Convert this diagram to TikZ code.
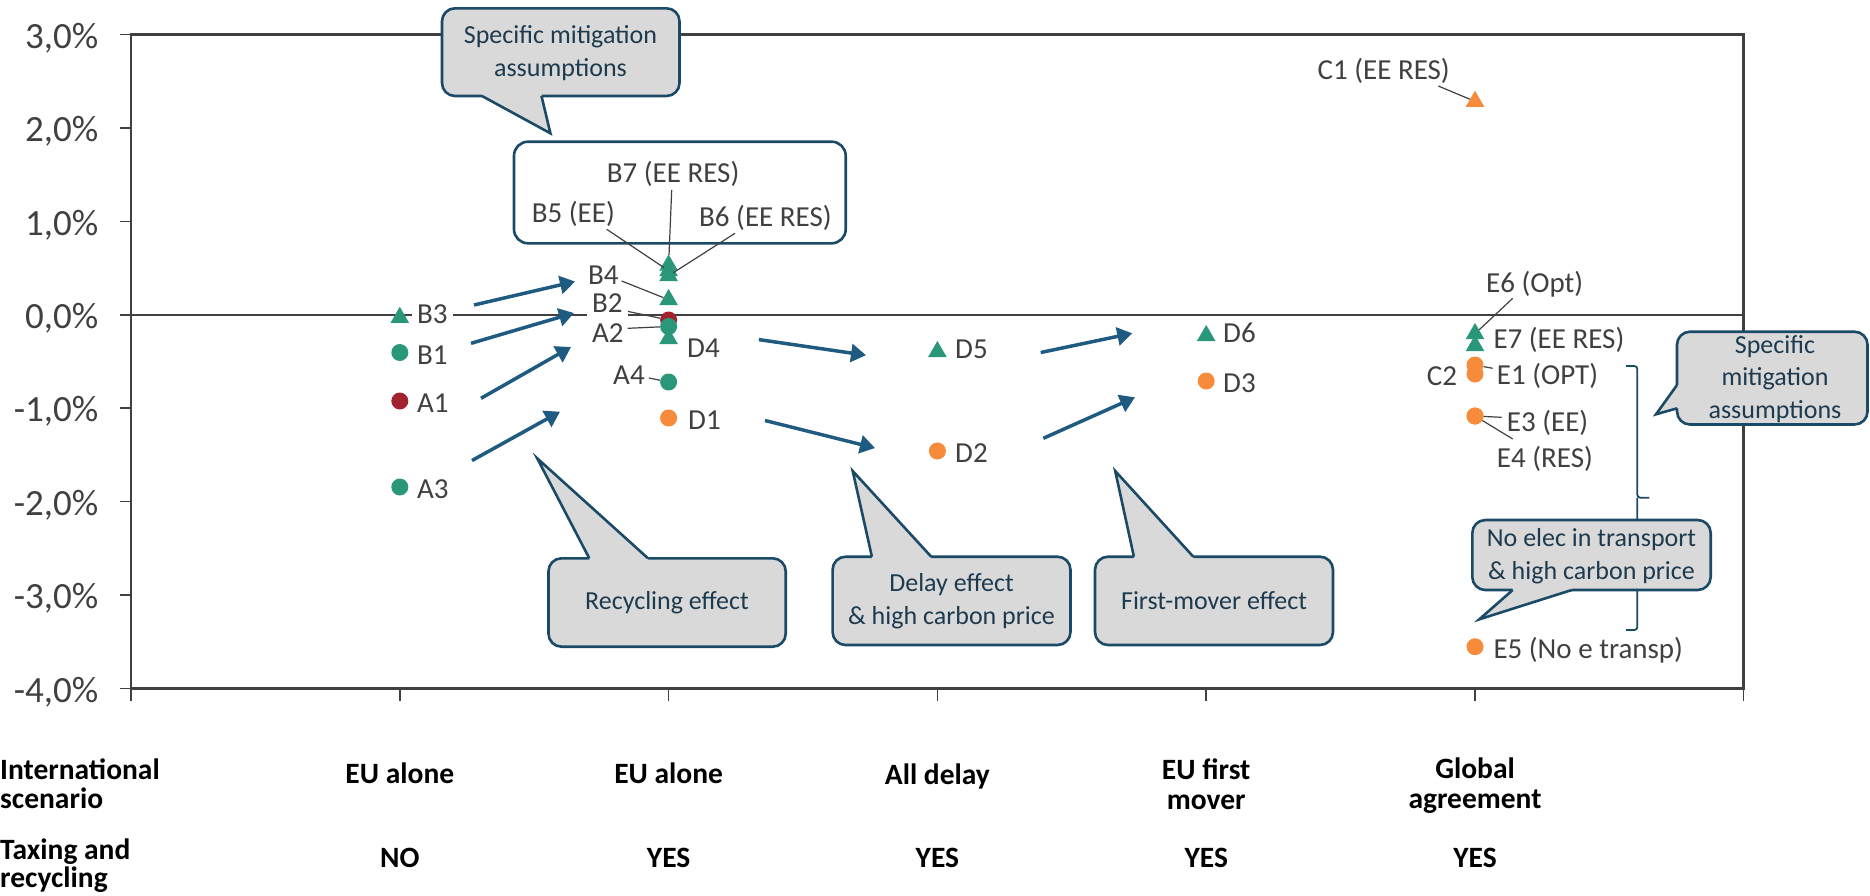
\documentclass[tikz,border=0pt]{standalone}
\usepackage{fontspec}
\setmainfont{Carlito}
\usetikzlibrary{arrows.meta,shapes.geometric}
\definecolor{cgreen}{HTML}{2A977A}
\definecolor{cred}{HTML}{A3222F}
\definecolor{corange}{HTML}{F58B3B}
\definecolor{carrow}{HTML}{1F5A80}
\definecolor{cborder}{HTML}{1B4A66}
\definecolor{cfill}{HTML}{D9D9D9}
\definecolor{ctext}{HTML}{404040}
\definecolor{cctext}{HTML}{1E3A4E}
\definecolor{caxis}{HTML}{404040}
\begin{document}
\begin{tikzpicture}[x=1pt,y=-1pt,
  frame/.style={draw=caxis,line width=2.6pt},
  tickmark/.style={draw=caxis,line width=1.6pt},
  circ/.style={circle,inner sep=0pt,minimum size=17pt},
  tri/.style={regular polygon,regular polygon sides=3,inner sep=0pt,minimum size=21.5pt},
  lab/.style={anchor=base west,inner sep=0pt,text=ctext,font=\fontsize{29}{35}\selectfont},
  labw/.style={lab,fill=white,inner xsep=5pt,inner ysep=4pt},
  lead/.style={draw=ctext,line width=1.2pt},
  arr/.style={draw=carrow,line width=3.5pt,-{Triangle[length=15pt,width=18pt]}},
  cbox/.style={draw=cborder,fill=cfill,line width=2.6pt,rounded corners=13pt},
  cptr/.style={draw=cborder,line width=2.6pt,line join=miter},
  ctxt/.style={text=cctext,font=\fontsize{26}{32.5}\selectfont,align=center,inner sep=0pt},
  ylab/.style={anchor=base east,inner sep=0pt,text=ctext,font=\fontsize{37}{44}\selectfont},
  cat/.style={inner sep=0pt,font=\bfseries\fontsize{29.5}{30}\selectfont,align=center},
]
\useasboundingbox (0,0) rectangle (1870,895);

% ---- plot frame, zero line, ticks
\draw[frame] (131,34.5) rectangle (1743.6,688.5);
\draw[frame,line width=2.4pt] (120,314.8) -- (1743.6,314.8);
\foreach \v in {3,2,1,0,-1,-2,-3,-4}
  \draw[tickmark] (120,{314.8-93.43*\v}) -- (131,{314.8-93.43*\v});
\foreach \k in {0,...,6}
  \draw[tickmark] ({131+268.77*\k},688.5) -- ({131+268.77*\k},701);
\foreach \v/\t in {3/{3,0\%},2/{2,0\%},1/{1,0\%},0/{0,0\%},-1/{-1,0\%},-2/{-2,0\%},-3/{-3,0\%},-4/{-4,0\%}}
  \node[ylab] at (98.5,{314.8-93.43*\v+13.7}) {\t};

% ---- box around B5-B7 and brace
\draw[draw=cborder,line width=2.6pt,rounded corners=14pt] (514,141.7) rectangle (845.7,243.3);
\draw[draw=cborder,line width=1.8pt,rounded corners=3pt] (1626,366) -- (1637.3,366) -- (1637.3,497.7) -- (1649.3,497.7);
\draw[draw=cborder,line width=1.8pt,rounded corners=3pt] (1637.3,497.7) -- (1637.3,630) -- (1626,630);

% ---- arrows
\coordinate (a1s) at (474,305);    \coordinate (a1e) at (575,281.5);
\coordinate (a2s) at (471,343.3);  \coordinate (a2e) at (574,313);
\coordinate (a3s) at (481,398.3);  \coordinate (a3e) at (571,347);
\coordinate (a4s) at (472,460.5);  \coordinate (a4e) at (560,411.7);
\coordinate (a5s) at (758.9,339.6);\coordinate (a5e) at (866,355.2);
\coordinate (a6s) at (765,420.5);  \coordinate (a6e) at (875,448);
\coordinate (a7s) at (1040.7,352.5);\coordinate (a7e) at (1132.3,333.3);
\coordinate (a8s) at (1043.3,438.3);\coordinate (a8e) at (1135,397.3);
\foreach \i in {1,...,8} \draw[arr] (a\i s) -- (a\i e);

% ---- markers
\node[circ,fill=cred]    (mA1) at (399.8,401) {};
\node[circ,fill=cgreen]  (mB1) at (399.8,352.5) {};
\node[circ,fill=cgreen]  (mA3) at (399.8,487) {};
\node[tri,fill=cgreen]   (mB3) at (399.8,317.5) {};
\node[circ,fill=cred]    (mB2) at (668.6,320) {};
\node[tri,fill=cgreen]   (mD4) at (668.6,338.7) {};
\node[circ,fill=cgreen]  (mA2) at (668.6,326.5) {};
\node[tri,fill=cgreen]   (mB6) at (668.6,275.7) {};
\node[tri,fill=cgreen]   (mB5) at (668.6,270.7) {};
\node[tri,fill=cgreen]   (mB7) at (668.6,265.2) {};
\node[tri,fill=cgreen]   (mB4) at (668.6,299.7) {};
\node[circ,fill=cgreen]  (mA4) at (668.6,382) {};
\node[circ,fill=corange] (mD1) at (668.6,418) {};
\node[tri,fill=cgreen]   (mD5) at (937.4,351.7) {};
\node[circ,fill=corange] (mD2) at (937.4,451) {};
\node[tri,fill=cgreen]   (mD6) at (1206.2,335.7) {};
\node[circ,fill=corange] (mD3) at (1206.2,381) {};
\node[tri,fill=corange]  (mC1) at (1475,101.4) {};
\node[tri,fill=cgreen]   (mE7) at (1475,345.7) {};
\node[tri,fill=cgreen]   (mE6) at (1475,333.7) {};
\node[circ,fill=corange] (mC2) at (1475,374) {};
\node[circ,fill=corange] (mE1) at (1475,365) {};
\node[circ,fill=corange] (mE4) at (1475,416) {};
\node[circ,fill=corange] (mE3) at (1475,416) {};
\node[circ,fill=corange] (mE5) at (1475,646.7) {};

% ---- leader lines
\coordinate (lB4) at (621.7,281);   \draw[lead] (lB4) -- (mB4);
\coordinate (lB2) at (626,311);     \draw[lead] (lB2) -- (mB2);
\coordinate (lA2) at (627.7,328.3); \draw[lead] (lA2) -- (mA2);
\coordinate (lA4) at (649,378);     \draw[lead] (lA4) -- (mA4);
\coordinate (lB7) at (671.7,190);   \draw[lead] (lB7) -- (mB7);
\coordinate (lB5) at (606.7,229.3); \draw[lead] (lB5) -- (mB5);
\coordinate (lB6) at (735,233.3);   \draw[lead] (lB6) -- (mB6);
\coordinate (lC1) at (1438.3,86);   \draw[lead] (lC1) -- (mC1);
\coordinate (lE6) at (1512.7,298.3);\draw[lead] (lE6) -- (mE6);
\coordinate (lE1) at (1492.7,368.3);\draw[lead] (lE1) -- (mE1);
\coordinate (lE3) at (1501.7,417.3);\draw[lead] (lE3) -- (mE3);
\coordinate (lE4) at (1512.7,439);  \draw[lead] (lE4) -- (mE4);

% ---- point labels
\node[labw] (tB3) at (412,323.3) {B3};
\node[lab]  (tB1) at (417,364.3) {B1};
\node[lab]  (tA1) at (417,412) {A1};
\node[lab]  (tA3) at (417,498.3) {A3};
\node[lab]  (tB4) at (588,284.3) {B4};
\node[labw] (tB2) at (587,312.6) {B2};
\node[lab]  (tA2) at (592,342) {A2};
\node[lab]  (tD4) at (687,357.6) {D4};
\node[lab]  (tA4) at (613,384.3) {A4};
\node[lab]  (tD1) at (688,429.3) {D1};
\node[lab]  (tB7) at (606.7,182.6) {B7 (EE RES)};
\node[lab]  (tB5) at (531.7,222.6) {B5 (EE)};
\node[lab]  (tB6) at (699,226.6) {B6 (EE RES)};
\node[lab]  (tD5) at (955,358.6) {D5};
\node[lab]  (tD2) at (955,462) {D2};
\node[lab]  (tD6) at (1223,342.6) {D6};
\node[lab]  (tD3) at (1223,392) {D3};
\node[lab,anchor=base east] (tC1) at (1450,79.3) {C1 (EE RES)};
\node[lab]  (tE6) at (1486,292) {E6 (Opt)};
\node[lab]  (tE7) at (1493.3,348.6) {E7 (EE RES)};
\node[lab]  (tC2) at (1426.7,385.3) {C2};
\node[lab]  (tE1) at (1496.7,384.3) {E1 (OPT)};
\node[lab]  (tE3) at (1506.7,431) {E3 (EE)};
\node[lab]  (tE4) at (1496.7,467.6) {E4 (RES)};
\node[lab]  (tE5) at (1493.3,658.6) {E5 (No e transp)};

% ---- callouts
% top
\draw[cbox] (442,8.3) rectangle (679.5,96);
\fill[cfill] (482,92) -- (482,96) -- (550.4,133.3) -- (541.5,96) -- (541.5,92) -- cycle;
\draw[cptr] (482,96) -- (550.4,133.3) -- (541.5,96);
\node[ctxt] (k1) at (560.5,53) {Specific mitigation\\assumptions};
% recycling
\draw[cbox] (548.5,558.3) rectangle (785.7,646.7);
\fill[cfill] (589.3,562.3) -- (589.3,558.3) -- (537.2,458.3) -- (648,558.3) -- (648,562.3) -- cycle;
\draw[cptr] (589.3,558.3) -- (537.2,458.3) -- (648,558.3);
\node[ctxt] (k2) at (667,603) {Recycling effect};
% delay
\draw[cbox] (832.6,556.7) rectangle (1070.5,645);
\fill[cfill] (871.9,560.7) -- (871.9,556.7) -- (852.7,471) -- (931.2,556.7) -- (931.2,560.7) -- cycle;
\draw[cptr] (871.9,556.7) -- (852.7,471) -- (931.2,556.7);
\node[ctxt] (k3) at (951.5,601) {Delay effect\\\& high carbon price};
% first mover
\draw[cbox] (1095,556.7) rectangle (1333,645);
\fill[cfill] (1133.9,560.7) -- (1133.9,556.7) -- (1115.2,471) -- (1193.3,556.7) -- (1193.3,560.7) -- cycle;
\draw[cptr] (1133.9,556.7) -- (1115.2,471) -- (1193.3,556.7);
\node[ctxt] (k4) at (1214,601) {First-mover effect};
% right
\draw[cbox] (1677,331.7) rectangle (1867.5,424.5);
\fill[cfill] (1681,385) -- (1677,385) -- (1656,414.3) -- (1677,408.3) -- (1681,408.3) -- cycle;
\draw[cptr] (1677,385) -- (1656,414.3) -- (1677,408.3);
\node[ctxt] (k5) at (1775,379) {Specific\\mitigation\\assumptions};
% no elec
\draw[cbox] (1472.3,520) rectangle (1710.7,590);
\fill[cfill] (1512.7,586) -- (1512.7,590) -- (1479.3,619.3) -- (1571.7,590) -- (1571.7,586) -- cycle;
\draw[cptr] (1512.7,590) -- (1479.3,619.3) -- (1571.7,590);
\node[ctxt] (k6) at (1591.5,556) {No elec in transport\\\& high carbon price};

% ---- category rows
\node[cat,anchor=west,align=left,font=\bfseries\fontsize{29.5}{29}\selectfont] (cIS) at (0,783.5) {International\\scenario};
\node[cat,anchor=base] (c1) at (399.8,783) {EU alone};
\node[cat,anchor=base] (c2) at (668.6,783) {EU alone};
\node[cat,anchor=base] (c3) at (937.4,784) {All delay};
\node[cat] (c4) at (1206.2,784.3) {EU first\\mover};
\node[cat] (c5) at (1475,785.6) {Global\\agreement};
\node[cat,anchor=west,align=left,font=\bfseries\fontsize{29.5}{28}\selectfont] (cTR) at (0,866) {Taxing and\\recycling};
\node[cat,anchor=base] (n1) at (399.8,867) {NO};
\node[cat,anchor=base] (n2) at (668.6,867) {YES};
\node[cat,anchor=base] (n3) at (937.4,867) {YES};
\node[cat,anchor=base] (n4) at (1206.2,867) {YES};
\node[cat,anchor=base] (n5) at (1475,867) {YES};
\end{tikzpicture}
\end{document}
